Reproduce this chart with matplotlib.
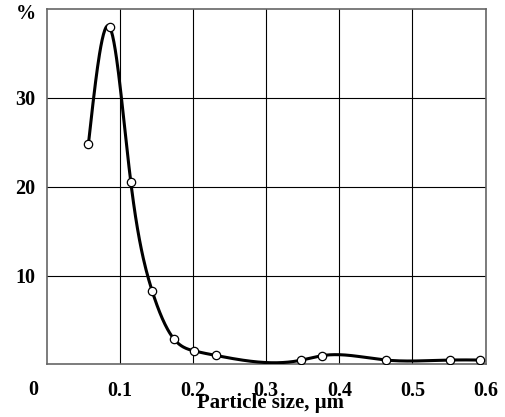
import numpy as np
import matplotlib
matplotlib.use('Agg')
import matplotlib.pyplot as plt

# measured points (particle size in um, percent)
size_um = [0.057, 0.086, 0.115, 0.144, 0.1735, 0.202, 0.231, 0.347, 0.376, 0.4636, 0.551, 0.593]
percent = [24.8, 38.0, 20.5, 8.3, 2.9, 1.5, 1.0, 0.45, 0.97, 0.48, 0.48, 0.48]

x_ticks = [0.1, 0.2, 0.3, 0.4, 0.5, 0.6]
x_tick_labels = ['0.1', '0.2', '0.3', '0.4', '0.5', '0.6']
y_ticks = [10, 20, 30]
y_tick_labels = ['10', '20', '30']


def natural_spline(x, y, xs):
    x = np.asarray(x, float)
    y = np.asarray(y, float)
    n = len(x)
    h = np.diff(x)
    A = np.zeros((n, n))
    b = np.zeros(n)
    A[0, 0] = 1
    A[-1, -1] = 1
    for i in range(1, n - 1):
        A[i, i - 1] = h[i - 1]
        A[i, i] = 2 * (h[i - 1] + h[i])
        A[i, i + 1] = h[i]
        b[i] = 3 * ((y[i + 1] - y[i]) / h[i] - (y[i] - y[i - 1]) / h[i - 1])
    c = np.linalg.solve(A, b)
    bb = (y[1:] - y[:-1]) / h - h * (2 * c[:-1] + c[1:]) / 3
    d = (c[1:] - c[:-1]) / (3 * h)
    idx = np.clip(np.searchsorted(x, xs) - 1, 0, n - 2)
    t = xs - x[idx]
    return y[idx] + bb[idx] * t + c[idx] * t ** 2 + d[idx] * t ** 3


plt.rcParams['font.family'] = ['Liberation Serif', 'DejaVu Serif']
plt.rcParams['font.weight'] = 'bold'

fig = plt.figure(figsize=(5.05, 4.17), dpi=100)
ax = fig.add_axes([0.0925, 0.1264, 0.869, 0.8516])

xs = np.linspace(size_um[0], size_um[-1], 600)
ax.plot(xs, natural_spline(size_um, percent, xs), color='black', lw=2.2, zorder=3)
ax.plot(size_um, percent, 'o', ms=6, mfc='white', mec='black', mew=0.9, zorder=4)

ax.set_xlim(0, 0.6)
ax.set_ylim(0, 40)
ax.set_xticks(x_ticks)
ax.set_xticklabels(x_tick_labels)
ax.set_yticks(y_ticks)
ax.set_yticklabels(y_tick_labels)
ax.tick_params(axis='x', length=0, pad=12, labelsize=14.5)
ax.tick_params(axis='y', length=0, pad=8, labelsize=14.5)
ax.grid(True, color='black', lw=0.8)
for sp in ax.spines.values():
    sp.set_color('#666666')
    sp.set_linewidth(1.2)

# origin label and unit label
ax.text(-0.019, -0.071, '0', transform=ax.get_xaxis_transform(), ha='center', va='center',
        fontsize=14.5, fontweight='bold', clip_on=False)
ax.text(-0.0255, 0.986, '%', transform=ax.transAxes, ha='right', va='center',
        fontsize=14.5, fontweight='bold', clip_on=False)

ax.set_xlabel('Particle size, \u00b5m', fontsize=15, fontweight='bold')
ax.xaxis.set_label_coords(0.511, -0.123)
ax.xaxis.label.set_verticalalignment('baseline')

fig.savefig('out.png', dpi=100)
